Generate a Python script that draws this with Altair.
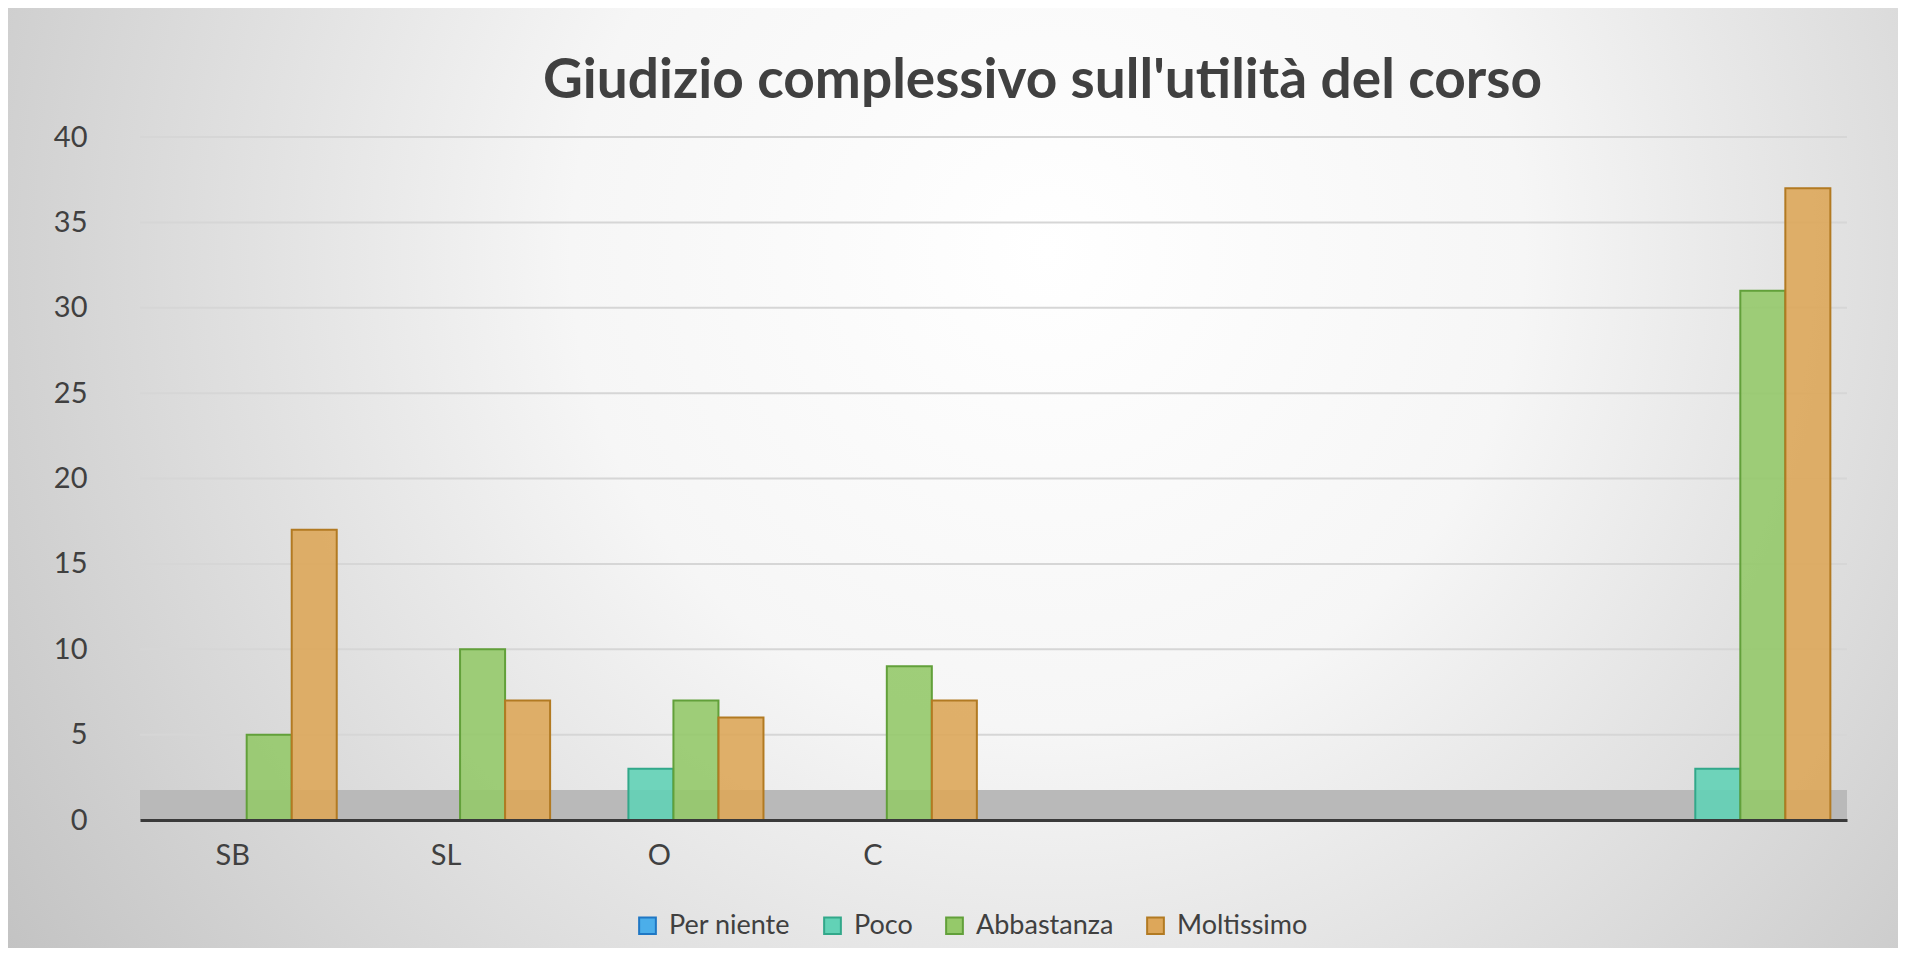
import altair as alt
import pandas as pd

# ---- data ----
categories = ["SB", "SL", "O", "C", " ", "  ", "   ", "    "]
data_categories = ["SB", "SL", "O", "C", "    "]
series = ["Per niente", "Poco", "Abbastanza", "Moltissimo"]
per_niente = [0, 0, 0, 0, 0]
poco = [0, 0, 3, 0, 3]
abbastanza = [5, 10, 7, 9, 31]
moltissimo = [17, 7, 6, 7, 37]
y_ticks = [0, 5, 10, 15, 20, 25, 30, 35, 40]
grid_values = [5, 10, 15, 20, 25, 30, 35, 40]

fills = ["#4BAEEA", "#62D2B6", "#95C96A", "#DDA75A"]
strokes = ["#1F77C4", "#32A88A", "#62A03A", "#B27A22"]

rows = []
for name, vals in zip(series, [per_niente, poco, abbastanza, moltissimo]):
    for cat, v in zip(data_categories, vals):
        rows.append({"category": cat, "series": name, "value": v})
df = pd.DataFrame(rows)

W, H = 1707, 683
PAD = {"left": 132, "top": 129, "right": 51, "bottom": 128}
FONT = "Lato"
TXT = "#404040"

yaxis = alt.Axis(title=None, values=y_ticks, labelFont=FONT, labelFontSize=29,
                 labelColor=TXT, labelPadding=53, ticks=False, tickSize=0,
                 domain=False, grid=False, zindex=1)
yscale = alt.Scale(domain=[0, 40])

legend = alt.Legend(title=None, orient="none", legendX=494, legendY=775,
                    direction="horizontal", symbolType="square", symbolSize=280,
                    symbolStrokeWidth=2, labelFont=FONT, labelFontSize=27,
                    labelColor=TXT, labelOffset=8, columnPadding=28, padding=0)

gradient = alt.RadialGradient(
    gradient="radial",
    stops=[alt.GradientStop(color="#ffffff", offset=0),
           alt.GradientStop(color="#f6f6f6", offset=0.35),
           alt.GradientStop(color="#bcbcbc", offset=1)],
    x1=0.55, y1=0.38, r1=0, x2=0.55, y2=0.38, r2=0.72)

bg = alt.Chart(alt.Data(values=[{}])).mark_rect(fill=gradient).encode(
    x=alt.value(-PAD["left"]), x2=alt.value(W + PAD["right"]),
    y=alt.value(-PAD["top"]), y2=alt.value(H + PAD["bottom"]))

floor = alt.Chart(alt.Data(values=[{}])).mark_rect(fill="#b9b9b9").encode(
    x=alt.value(0), x2=alt.value(W), y=alt.value(H - 30), y2=alt.value(H))

grid = alt.Chart(pd.DataFrame({"value": grid_values})).mark_rule(
    color="#d6d6d6", strokeWidth=2).encode(
    y=alt.Y("value:Q", scale=yscale, axis=yaxis))

bars = alt.Chart(df).mark_bar(strokeWidth=2, fillOpacity=0.9).encode(
    x=alt.X("category:N", scale=alt.Scale(domain=categories, paddingInner=0.156,
                                           paddingOuter=0.078),
            axis=alt.Axis(title=None, labelAngle=0, labelFont=FONT, labelFontSize=29,
                          labelColor=TXT, labelPadding=21, labelOffset=-14,
                          ticks=False, tickSize=0, domainColor="#3a3a3a",
                          domainWidth=3, grid=False, zindex=1)),
    xOffset=alt.XOffset("series:N", scale=alt.Scale(domain=series)),
    y=alt.Y("value:Q", scale=yscale, axis=yaxis),
    fill=alt.Fill("series:N", scale=alt.Scale(domain=series, range=fills), legend=legend),
    stroke=alt.Stroke("series:N", scale=alt.Scale(domain=series, range=strokes), legend=legend),
)

chart = alt.layer(bg, floor, grid, bars).properties(
    width=W, height=H,
    autosize=alt.AutoSizeParams(type="none"),
    padding=PAD,
    background="white",
    title=alt.TitleParams(text="Giudizio complessivo sull'utilità del corso",
                          font=FONT, fontSize=55, fontWeight="bold", color=TXT,
                          anchor="middle", dx=49, offset=-102),
).configure_view(stroke=None)

chart.save("out.html", embed_options={"renderer": "svg", "actions": False})
